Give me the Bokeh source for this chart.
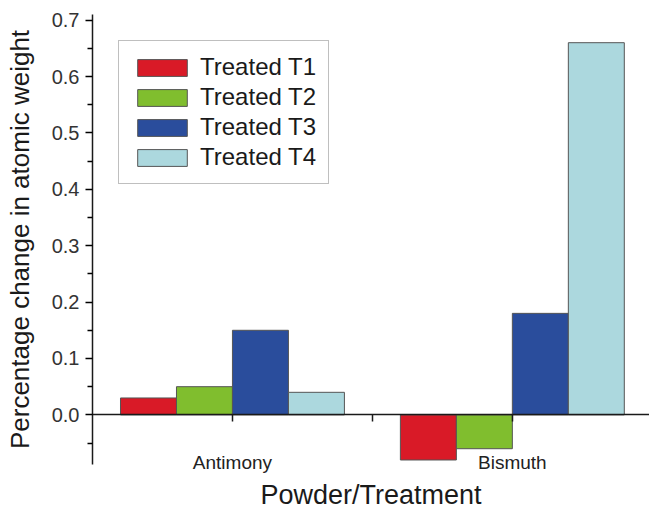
from bokeh.plotting import figure
from bokeh.models import Range1d, FixedTicker, LinearAxis, PrintfTickFormatter, ColumnDataSource
from bokeh.embed import file_html
from bokeh.resources import INLINE

categories = ["Antimony", "Bismuth"]
series_names = ["Treated T1", "Treated T2", "Treated T3", "Treated T4"]
treated_t1 = [0.03, -0.08]
treated_t2 = [0.05, -0.06]
treated_t3 = [0.15, 0.18]
treated_t4 = [0.04, 0.66]
series_values = [treated_t1, treated_t2, treated_t3, treated_t4]
colors = ["#d91a27", "#80be2e", "#2a4d9c", "#acd8de"]
y_ticks = [0.0, 0.1, 0.2, 0.3, 0.4, 0.5, 0.6, 0.7]
y_minor_ticks = [-0.05, 0.05, 0.15, 0.25, 0.35, 0.45, 0.55, 0.65]

FONT = "Liberation Sans"
bar_width = 0.2
cat_pos = [i + 0.5 for i in range(len(categories))]
zero_ticks = cat_pos + [(cat_pos[i] + cat_pos[i + 1]) / 2 for i in range(len(cat_pos) - 1)]

p = figure(width=649, height=512, x_range=Range1d(0, 1.99), y_range=Range1d(-0.088, 0.71),
           output_backend="svg", toolbar_location=None,
           min_border_left=92, min_border_right=0, min_border_top=14, min_border_bottom=45)
p.outline_line_color = None
p.xgrid.visible = False
p.ygrid.visible = False

n = len(series_names)
for j, (name, vals, col) in enumerate(zip(series_names, series_values, colors)):
    off = (j - (n - 1) / 2) * bar_width
    src = ColumnDataSource(dict(x=[c + off for c in cat_pos], top=vals))
    p.vbar(x="x", top="top", bottom=0, width=bar_width, source=src,
           fill_color=col, line_color="#555555", line_width=1, legend_label=name)

# y axis
ya = p.yaxis[0]
ya.ticker = FixedTicker(ticks=y_ticks, minor_ticks=y_minor_ticks)
ya.formatter = PrintfTickFormatter(format="%.1f")
ya.axis_label = "Percentage change in atomic weight"
ya.axis_label_text_font = FONT
ya.axis_label_text_font_size = "26px"
ya.axis_label_text_font_style = "normal"
ya.axis_label_text_color = "#1a1a1a"
ya.axis_label_standoff = 14
ya.major_label_text_font = FONT
ya.major_label_text_font_size = "20px"
ya.major_label_text_color = "#333333"
ya.major_label_standoff = 6
ya.major_tick_out = 7
ya.major_tick_in = 0
ya.minor_tick_out = 5
ya.minor_tick_in = 0
ya.axis_line_width = 1.5
ya.axis_line_color = "#1a1a1a"
ya.major_tick_line_width = 1.5
ya.minor_tick_line_width = 1.5

# bottom axis: labels only
xa = p.xaxis[0]
xa.ticker = FixedTicker(ticks=cat_pos)
xa.major_label_overrides = {pos: cat for pos, cat in zip(cat_pos, categories)}
xa.axis_line_color = None
xa.major_tick_out = 0
xa.major_tick_in = 0
xa.minor_tick_line_color = None
xa.major_label_standoff = -13
xa.major_label_text_font = FONT
xa.major_label_text_font_size = "19px"
xa.major_label_text_color = "#222222"
xa.axis_label = "Powder/Treatment"
xa.axis_label_text_font = FONT
xa.axis_label_text_font_size = "27px"
xa.axis_label_text_font_style = "normal"
xa.axis_label_text_color = "#1a1a1a"
xa.axis_label_standoff = 4

# zero line axis with ticks
za = LinearAxis(fixed_location=0, ticker=FixedTicker(ticks=zero_ticks, minor_ticks=[]),
                major_tick_in=7, major_tick_out=0,
                major_label_overrides={t: "" for t in zero_ticks},
                major_label_standoff=0, axis_line_width=1.5, axis_line_color="#1a1a1a",
                major_tick_line_width=1.5, major_tick_line_color="#1a1a1a")
p.add_layout(za, "above")

lg = p.legend[0]
lg.location = "top_left"
lg.margin = 26
lg.padding = 12
lg.spacing = 2
lg.glyph_width = 62
lg.glyph_height = 21
lg.label_height = 21
lg.label_standoff = 7
lg.label_text_font = FONT
lg.label_text_font_size = "24px"
lg.label_text_color = "#1a1a1a"
lg.border_line_color = "#808080"
lg.border_line_width = 1.5
lg.background_fill_alpha = 1.0

open("out.html", "w").write(file_html(p, INLINE))
